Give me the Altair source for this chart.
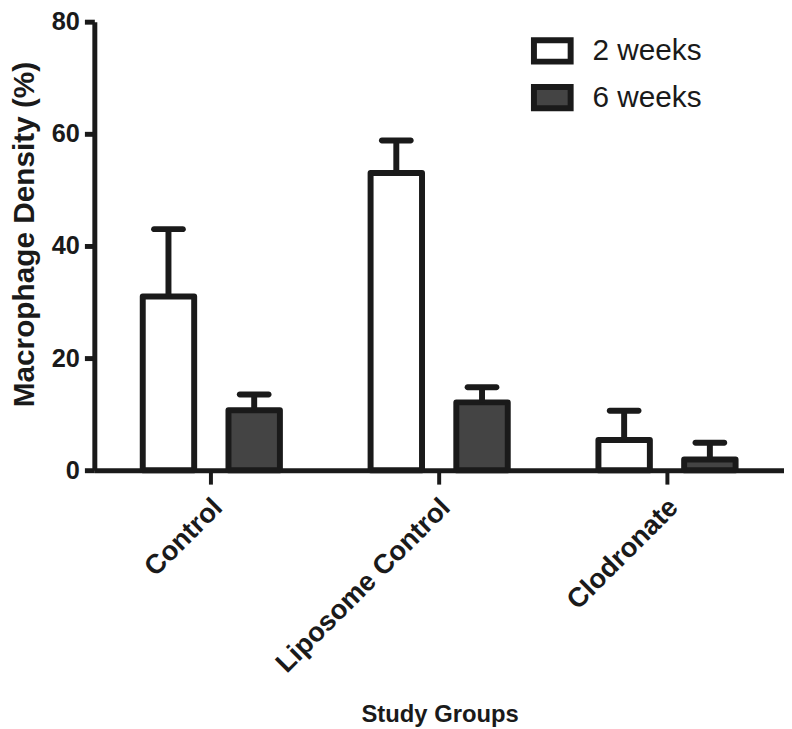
import altair as alt
import pandas as pd

groups = ["Control", "Liposome Control", "Clodronate"]
series = ["2 weeks", "6 weeks"]
mean_2wk = [31.0, 53.0, 5.4]
sem_2wk = [12.0, 5.8, 5.2]
mean_6wk = [10.7, 12.1, 1.9]
sem_6wk = [2.8, 2.7, 3.0]
y_ticks = [0, 20, 40, 60, 80]

rows = []
for g, m, s in zip(groups, mean_2wk, sem_2wk):
    rows.append({"group": g, "series": series[0], "value": m, "upper": m + s})
for g, m, s in zip(groups, mean_6wk, sem_6wk):
    rows.append({"group": g, "series": series[1], "value": m, "upper": m + s})
df = pd.DataFrame(rows)

INK = "#1a1a1a"
FONT = "Liberation Sans"

base = alt.Chart(df).encode(
    x=alt.X(
        "group:N",
        sort=groups,
        scale=alt.Scale(paddingInner=0.398, paddingOuter=0.2125),
        axis=alt.Axis(
            title="Study Groups",
            labelAngle=-45,
            labelAlign="right",
            labelBaseline="middle",
            labelFont=FONT,
            labelFontWeight="bold",
            labelFontSize=27.5,
            labelColor=INK,
            labelPadding=19,
            labelOffset=7,
            labelLimit=0,
            tickSize=14,
            tickWidth=4,
            titleFont=FONT,
            titleFontWeight="bold",
            titleFontSize=24,
            titleColor=INK,
            titleX=348,
            titleY=246,
            titleBaseline="middle",
            titleAlign="center",
        ),
    ),
    xOffset=alt.XOffset("series:N", sort=series, scale=alt.Scale(paddingInner=0.4, paddingOuter=0)),
)

bars = base.mark_bar(stroke=INK, strokeWidth=6, strokeJoin="round").encode(
    y=alt.Y(
        "value:Q",
        scale=alt.Scale(domain=[0, 80], nice=False),
        axis=alt.Axis(
            values=y_ticks,
            title="Macrophage Density (%)",
            labelFont=FONT,
            labelFontWeight="bold",
            labelFontSize=25.5,
            labelColor=INK,
            labelPadding=5,
            labelFlush=False,
            tickSize=10,
            tickWidth=5,
            titleFont=FONT,
            titleFontWeight="bold",
            titleFontSize=30,
            titleColor=INK,
            titleX=-70,
            titleY=214,
            titleAngle=-90,
            titleAlign="center",
            titleBaseline="middle",
        ),
    ),
    fill=alt.Fill(
        "series:N",
        sort=series,
        scale=alt.Scale(domain=series, range=["#ffffff", "#444444"]),
        legend=alt.Legend(
            title=None,
            orient="none",
            legendX=440,
            legendY=8,
            symbolType="M-1,-0.58H1V0.58H-1Z",
            symbolSize=1369,
            symbolStrokeWidth=6,
            symbolStrokeColor=INK,
            labelFont=FONT,
            labelFontSize=30,
            labelColor=INK,
            labelOffset=19,
            rowPadding=0,
        ),
    ),
)

stems = base.mark_rule(color=INK, strokeWidth=6).encode(
    y="value:Q",
    y2="upper:Q",
)

caps = base.mark_tick(color=INK, size=35, thickness=6, cornerRadius=3, orient="horizontal", opacity=1).encode(
    y="upper:Q",
)

chart = (
    alt.layer(bars, stems, caps)
    .properties(
        width=695,
        height=452,
        autosize=alt.AutoSizeParams(type="none"),
        padding={"left": 87, "top": 11, "right": 0, "bottom": 260},
    )
    .configure_view(stroke=None)
    .configure_axis(grid=False, domainColor=INK, domainWidth=5, tickColor=INK)
)

chart.save("out.html", embed_options={"renderer": "svg", "actions": False})
